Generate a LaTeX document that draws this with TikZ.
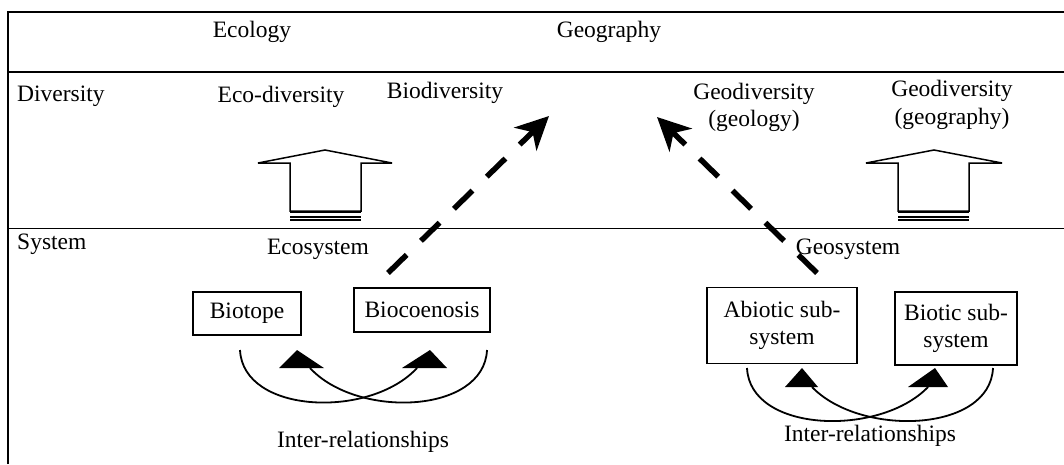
\documentclass[tikz,border=0pt]{standalone}
\usepackage{fontspec}
\setmainfont{Liberation Serif}
\usetikzlibrary{arrows.meta}
\tikzset{
  lbl/.style={inner sep=0pt, font=\fontsize{23.5}{27.5}\selectfont},
  llbl/.style={lbl, anchor=base west},
  clbl/.style={lbl, anchor=base},
  mlbl/.style={lbl, anchor=base, align=center},
  boxn/.style={draw, line width=1.6pt, inner sep=0pt, align=center,
    font=\fontsize{23.5}{27.5}\selectfont},
  frame/.style={line width=1.9pt},
  blockarrow/.style={line width=1.5pt, line join=miter},
  dasharrow/.style={line width=5.5pt, dash pattern=on 26pt off 20pt,
    -{Stealth[length=33pt,width=32pt,inset=10pt]}},
  relcurve/.style={line width=1.8pt},
  tri/.style={fill=black},
}
\begin{document}
\begin{tikzpicture}[x=1pt,y=-1pt]
\useasboundingbox (0,0) rectangle (1064,464);
% frame
\draw[frame] (8,464) -- (8,12) -- (1064,12);
\draw[frame] (8,72) -- (1064,72);
\draw[frame] (8,228.5) -- (1064,228.5);
% header texts
\node[clbl] (ecology) at (252,37) {Ecology};
\node[clbl] (geography) at (609,37) {Geography};
\node[llbl] (diversity) at (17,101) {Diversity};
\node[llbl] (system) at (17,249) {System};
\node[clbl] (ecodiv) at (281,102) {Eco-diversity};
\node[clbl] (biodiv) at (445,98.5) {Biodiversity};
% multi-line nodes: base anchor is the last line's baseline
\node[mlbl] (geodivgeol) at (754,126.5) {Geodiversity\\(geology)};
\node[mlbl] (geodivgeog) at (952,124) {Geodiversity\\(geography)};
\node[clbl] (ecosys) at (318,254) {Ecosystem};
\node[clbl] (geosys) at (848,254) {Geosystem};
% boxes
\node[boxn, minimum width=108pt, minimum height=43pt] (biotope) at (247,313.5) {Biotope};
\node[boxn, minimum width=136pt, minimum height=44pt] (biocoen) at (422,310) {Biocoenosis};
\node[boxn, minimum width=150pt, minimum height=76pt] (abiotic) at (782,325.5) {Abiotic sub-\\system};
\node[boxn, minimum width=122pt, minimum height=73pt] (biotic) at (956,328.5) {Biotic sub-\\system};
% block arrows
\draw[blockarrow] (290,211) -- (290,163) -- (258,163) -- (325,150) -- (392,163) -- (361,163) -- (361,211) -- cycle;
\draw[line width=1.8pt] (290,212.5) -- (361,212.5);
\draw[line width=2pt] (290,216.5) -- (361,216.5);
\draw[line width=2pt] (290,219.8) -- (361,219.8);
\draw[blockarrow] (898,211) -- (898,163) -- (866,163) -- (934,150) -- (1002,163) -- (969,163) -- (969,211) -- cycle;
\draw[line width=1.8pt] (898,212.5) -- (969,212.5);
\draw[line width=2pt] (898,216.5) -- (969,216.5);
\draw[line width=2pt] (898,219.8) -- (969,219.8);
% dashed arrows
\coordinate (d1s) at (388,273);
\coordinate (d1e) at (549,116);
\coordinate (d2s) at (817,273);
\coordinate (d2e) at (657,117);
\draw[dasharrow] (d1s) -- (d1e);
\draw[dasharrow] (d2s) -- (d2e);
% inter-relationships, left
\coordinate (a1) at (240,350);
\coordinate (a1e) at (417,368);
\coordinate (b1) at (487,350);
\coordinate (b1e) at (310,368);
\draw[relcurve] (a1) .. controls (243,414) and (370,419) .. (a1e);
\draw[relcurve] (b1) .. controls (484,414) and (357,419) .. (b1e);
\fill[tri] (297,350) -- (279,368) -- (324,368) -- cycle;
\fill[tri] (430,350) -- (402,368) -- (447,368) -- cycle;
\node[clbl] (inter1) at (363,447) {Inter-relationships};
% inter-relationships, right
\coordinate (a2) at (747,368);
\coordinate (a2e) at (928,387);
\coordinate (b2) at (993,368);
\coordinate (b2e) at (812,387);
\draw[relcurve] (a2) .. controls (750,433) and (880,437) .. (a2e);
\draw[relcurve] (b2) .. controls (990,433) and (860,437) .. (b2e);
\fill[tri] (802,368) -- (785,387) -- (818,387) -- cycle;
\fill[tri] (935,368) -- (908,387) -- (948,387) -- cycle;
\node[clbl] (inter2) at (870,441) {Inter-relationships};
\end{tikzpicture}
\end{document}
